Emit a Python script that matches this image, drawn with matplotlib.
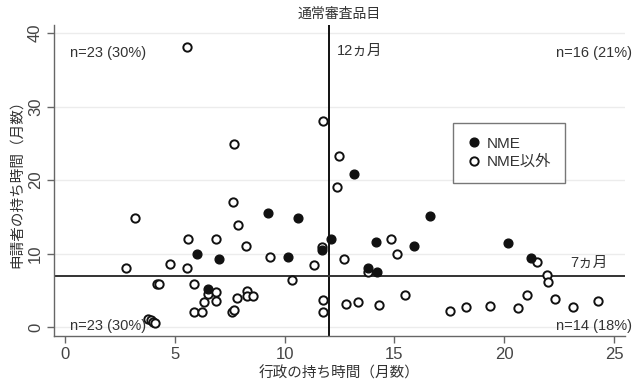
import matplotlib
matplotlib.use("Agg")
import matplotlib.pyplot as plt
from matplotlib.lines import Line2D

plt.rcParams['font.family'] = ['Liberation Sans', 'Noto Sans CJK JP', 'DejaVu Sans']

# NME (filled)
nme_x = [9.26, 10.63, 11.7, 6.03, 7.01, 10.14, 12.11, 13.16, 16.62, 14.16, 15.89,
         13.81, 14.22, 20.16, 21.2, 6.53]
nme_y = [15.55, 14.9, 10.5, 9.9, 9.25, 9.5, 12.0, 20.8, 15.1, 11.56, 11.0,
         8.0, 7.5, 11.5, 9.35, 5.2]

# non-NME (open)
oth_x = [5.57, 11.76, 7.71, 7.67, 3.19, 7.86, 5.59, 6.86, 8.23, 11.7, 9.35, 11.36,
         2.78, 4.80, 5.56,
         12.48, 12.4, 14.83, 15.13, 12.72, 13.81, 21.48, 21.96,
         12.78, 13.33, 14.31, 15.48, 17.53, 18.26, 19.35, 20.64, 21.05, 22.0, 22.31,
         23.15, 24.26,
         4.17, 4.30, 5.89, 5.89, 6.22, 6.53, 6.86, 6.34, 6.86, 8.30, 8.30, 8.55, 7.85,
         7.62, 7.70, 11.76, 11.76, 10.32, 3.80, 3.92, 4.02, 4.12]
oth_y = [38.1, 28.0, 24.9, 17.0, 14.9, 13.9, 12.0, 12.0, 11.0, 10.9, 9.5, 8.4,
         8.0, 8.6, 8.0,
         23.3, 19.0, 12.0, 9.9, 9.25, 7.5, 8.8, 7.07,
         3.1, 3.4, 3.0, 4.35, 2.2, 2.7, 2.86, 2.6, 4.35, 6.1, 3.8,
         2.77, 3.58,
         5.9, 5.9, 5.9, 2.0, 2.0, 4.5, 4.7, 3.45, 3.6, 4.9, 4.26, 4.26, 4.0,
         2.1, 2.3, 3.67, 2.0, 6.4, 1.1, 0.9, 0.7, 0.5]

xticks = [0, 5, 10, 15, 20, 25]
yticks = [0, 10, 20, 30, 40]
x_cut = 12
y_cut = 7

fig = plt.figure(figsize=(6.34, 3.87), dpi=100)
ax = fig.add_axes([54/634, 1-336/387, (625-54)/634, (336-25)/387])

txt = '#333333'
ax.set_xlim(-0.5, 25.5)
ax.set_ylim(-1.22, 41.1)
ax.set_yticks(yticks)
ax.set_xticks(xticks)
for y in yticks:
    ax.axhline(y, color='#ececec', lw=1.0, zorder=0)

ax.axvline(x_cut, color='#111111', lw=1.4, zorder=1)
ax.axhline(y_cut, color='#333333', lw=1.4, zorder=1)

ax.plot(oth_x, oth_y, 'o', ms=6, mfc='white', mec='#111111', mew=1.4, ls='none', zorder=3)
ax.plot(nme_x, nme_y, 'o', ms=6.3, mfc='#111111', mec='#111111', mew=1.0, ls='none', zorder=3)

for s in ['top', 'right']:
    ax.spines[s].set_visible(False)
for s in ['left', 'bottom']:
    ax.spines[s].set_color('#666666')
    ax.spines[s].set_linewidth(1.0)
ax.tick_params(axis='both', colors='#666666', labelcolor='#444444', length=5, width=1, labelsize=12)
ax.tick_params(axis='y', pad=3)
ax.tick_params(axis='x', pad=3)
for lab in ax.get_yticklabels():
    lab.set_rotation(90)
    lab.set_va('center')

ax.set_xlabel('行政の持ち時間（月数）', fontsize=10.5, color=txt, labelpad=3)
ax.set_ylabel('申請者の持ち時間（月数）', fontsize=10.5, color=txt, labelpad=3)
ax.set_title('通常審査品目', fontsize=10, color=txt, pad=5)

fs = 10.5
ax.text(0.23, 37.3, 'n=23 (30%)', fontsize=fs, color=txt, va='center', ha='left')
ax.text(25.8, 37.3, 'n=16 (21%)', fontsize=fs, color=txt, va='center', ha='right', clip_on=False)
ax.text(0.23, 0.1, 'n=23 (30%)', fontsize=fs, color=txt, va='center', ha='left')
ax.text(25.8, 0.2, 'n=14 (18%)', fontsize=fs, color=txt, va='center', ha='right', clip_on=False)
ax.text(12.4, 37.6, '12ヵ月', fontsize=fs, color=txt, va='center', ha='left')
ax.text(23.0, 8.7, '7ヵ月', fontsize=fs, color=txt, va='center', ha='left')

handles = [Line2D([], [], marker='o', ls='none', ms=6.3, mfc='#111111', mec='#111111', label='NME'),
           Line2D([], [], marker='o', ls='none', ms=6, mfc='white', mec='#111111', mew=1.4, label='NME以外')]
leg = ax.legend(handles=handles, loc='upper left', bbox_to_anchor=((453-54)/571, (336-123)/311),
                frameon=True, fancybox=False, edgecolor='#555555', fontsize=11,
                handletextpad=0.3, borderpad=0.9, handlelength=1.0, labelspacing=0.25,
                borderaxespad=0)
leg.get_frame().set_linewidth(1.0)
for t in leg.get_texts():
    t.set_color(txt)

fig.savefig('out.png', dpi=100)
